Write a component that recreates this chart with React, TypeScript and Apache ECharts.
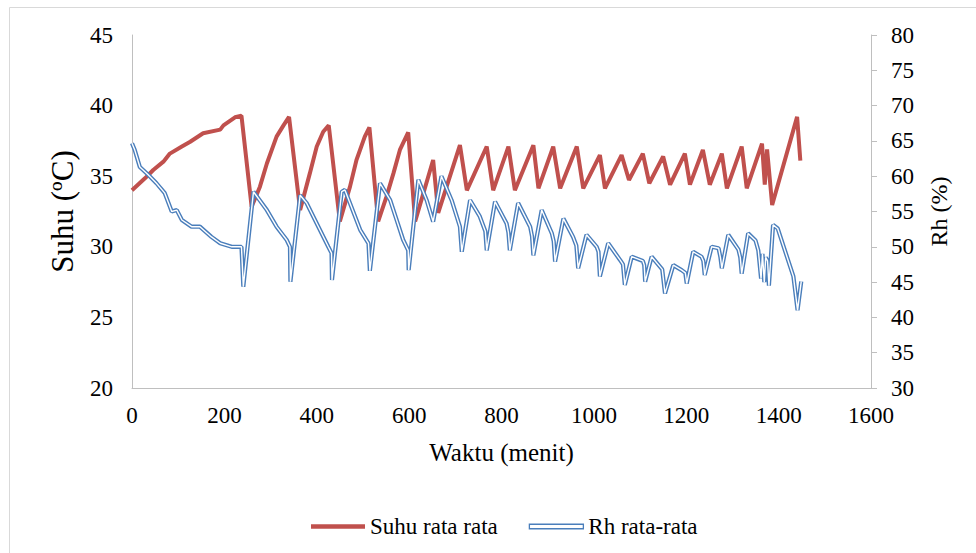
import React, { useEffect, useRef } from "react";
import * as echarts from "echarts";

// Suhu rata rata (°C) — time in minutes, temperature
const suhuTime = [0, 28, 46, 68, 82, 108, 126, 154, 191, 198, 223, 237, 259, 277, 292, 313, 328, 340, 364, 385, 400, 414, 426, 450, 472, 486, 504, 514, 533, 551, 566, 580, 598, 613, 652, 663, 710, 725, 768, 782, 815, 829, 869, 880, 912, 927, 963, 977, 1013, 1024, 1060, 1076, 1106, 1120, 1150, 1165, 1197, 1208, 1236, 1251, 1277, 1288, 1320, 1331, 1364, 1370, 1375, 1386, 1440, 1447];
const suhuVal = [34.0, 34.85, 35.44, 36.03, 36.6, 37.1, 37.44, 38.04, 38.3, 38.6, 39.17, 39.28, 32.84, 34.26, 35.9, 37.8, 38.6, 39.2, 32.6, 35.2, 37.1, 38.15, 38.6, 31.8, 34.26, 36.15, 37.8, 38.46, 31.8, 33.55, 35.2, 36.86, 38.1, 31.8, 36.15, 32.4, 37.2, 34.0, 37.1, 34.0, 37.1, 34.0, 37.2, 34.14, 37.1, 34.14, 37.1, 34.14, 36.5, 34.14, 36.5, 34.73, 36.6, 34.5, 36.4, 34.4, 36.6, 34.4, 36.86, 34.4, 36.6, 34.14, 37.1, 34.14, 37.3, 34.4, 36.9, 32.96, 39.2, 36.1];

// Rh rata-rata (%) — time in minutes, relative humidity
const rhTime = [0, 6, 17, 35, 53, 71, 86, 97, 108, 129, 147, 172, 191, 216, 237, 241, 263, 292, 313, 335, 342, 343, 364, 378, 400, 425, 432, 433, 454, 461, 494, 512, 515, 537, 559, 587, 598, 599, 620, 638, 652, 670, 692, 710, 714, 732, 753, 765, 768, 786, 811, 815, 818, 836, 862, 866, 869, 887, 909, 913, 916, 934, 955, 962, 966, 984, 1006, 1010, 1013, 1031, 1057, 1063, 1067, 1082, 1106, 1109, 1111, 1125, 1148, 1154, 1172, 1190, 1198, 1201, 1215, 1233, 1237, 1240, 1255, 1270, 1274, 1277, 1291, 1313, 1317, 1320, 1334, 1350, 1356, 1362, 1365, 1369, 1372, 1376, 1379, 1388, 1398, 1432, 1441, 1449];
const rhVal = [64.66, 63.7, 61.3, 60.2, 59.0, 57.6, 55.0, 55.2, 53.8, 52.85, 52.85, 51.4, 50.5, 50.0, 50.0, 44.35, 57.8, 55.2, 52.85, 50.96, 50.0, 45.06, 57.3, 56.2, 53.3, 50.0, 49.1, 45.3, 57.8, 58.05, 52.4, 50.5, 46.6, 59.0, 56.6, 51.0, 49.5, 46.7, 59.5, 56.6, 53.55, 60.0, 56.6, 52.85, 49.3, 56.6, 54.3, 52.2, 49.5, 56.4, 53.3, 52.0, 49.5, 56.2, 52.85, 51.5, 48.8, 55.2, 51.9, 50.8, 47.9, 54.0, 51.4, 50.2, 46.96, 51.7, 50.0, 49.3, 45.8, 50.5, 48.1, 47.5, 44.6, 48.6, 48.0, 47.4, 45.06, 48.6, 46.8, 43.4, 47.4, 46.7, 46.3, 44.8, 49.3, 48.6, 48.0, 46.0, 50.0, 49.8, 48.5, 46.96, 51.7, 49.6, 48.5, 46.2, 51.9, 50.9, 49.5, 45.5, 49.0, 45.0, 48.5, 48.0, 44.5, 53.1, 52.6, 45.8, 41.0, 45.1];

const xTicks = { min: 0, max: 1600, interval: 200 };
const leftTicks = { min: 20, max: 45, interval: 5 };
const rightTicks = { min: 30, max: 80, interval: 5 };

const FONT = "Liberation Serif";
const RED = "#c0504d";
const BLUE = "#4a7ebb";

export default function App() {
  const ref = useRef<HTMLDivElement>(null);
  useEffect(() => {
    if (!ref.current) return;
    const chart = echarts.init(ref.current, null, { renderer: "svg" });
    const suhu = suhuTime.map((t, i) => [t, suhuVal[i]]);
    const rh = rhTime.map((t, i) => [t, rhVal[i]]);
    const axisLine = { show: true, lineStyle: { color: "#bfbfbf", width: 1 } };
    const txt = (size: number) => ({ fontFamily: FONT, fontSize: size, color: "#000" });
    chart.setOption({
      animation: false,
      backgroundColor: "#fff",
      textStyle: { fontFamily: FONT },
      graphic: [
        {
          type: "rect",
          shape: { x: 9.5, y: 7.5, width: 980, height: 560 },
          style: { fill: "none", stroke: "#d9d9d9", lineWidth: 1 },
          silent: true,
        },
      ],
      grid: { left: 132, right: 105, top: 35, bottom: 165 },
      legend: {
        left: 306,
        top: 510,
        itemWidth: 54,
        itemHeight: 4.5,
        itemGap: 31,
        textStyle: txt(23),
        data: [
          { name: "Suhu rata rata", icon: "rect", itemStyle: { color: RED, borderWidth: 0 } },
          { name: "Rh rata-rata", icon: "rect", itemStyle: { color: "#fff", borderColor: BLUE, borderWidth: 1.3 } },
        ],
      },
      xAxis: {
        type: "value",
        ...xTicks,
        name: "Waktu (menit)",
        nameLocation: "middle",
        nameGap: 52,
        nameTextStyle: txt(25),
        axisLine,
        axisTick: { show: false },
        splitLine: { show: false },
        axisLabel: { ...txt(23), margin: 16, formatter: (v: number) => String(v) },
      },
      yAxis: [
        {
          type: "value",
          ...leftTicks,
          position: "left",
          name: "Suhu (ºC)",
          nameLocation: "middle",
          nameRotate: 90,
          nameGap: 54,
          nameTextStyle: txt(31),
          axisLine,
          axisTick: { show: false },
          splitLine: { show: false },
          axisLabel: { ...txt(23), margin: 19, formatter: (v: number) => String(v) },
        },
        {
          type: "value",
          ...rightTicks,
          position: "right",
          name: "Rh (%)",
          nameLocation: "middle",
          nameRotate: 90,
          nameGap: 56,
          nameTextStyle: txt(24),
          axisLine,
          axisTick: { show: true, length: 6, lineStyle: { color: "#bfbfbf" } },
          splitLine: { show: false },
          axisLabel: { ...txt(23), margin: 20, formatter: (v: number) => String(v) },
        },
      ],
      series: [
        {
          name: "Suhu rata rata",
          type: "line",
          yAxisIndex: 0,
          data: suhu,
          symbol: "none",
          lineStyle: { color: RED, width: 4 },
          itemStyle: { color: RED },
        },
        {
          name: "Rh rata-rata",
          type: "line",
          yAxisIndex: 1,
          data: rh,
          symbol: "none",
          lineStyle: { color: BLUE, width: 4.2 },
          itemStyle: { color: BLUE },
        },
        {
          name: "Rh inner",
          type: "line",
          yAxisIndex: 1,
          data: rh,
          symbol: "none",
          lineStyle: { color: "#ffffff", width: 1.4 },
          itemStyle: { color: "#fff" },
          silent: true,
        },
      ],
    });
    return () => chart.dispose();
  }, []);
  return <div ref={ref} style={{ position: "fixed", left: 0, top: 0, width: 976, height: 553 }} />;
}
